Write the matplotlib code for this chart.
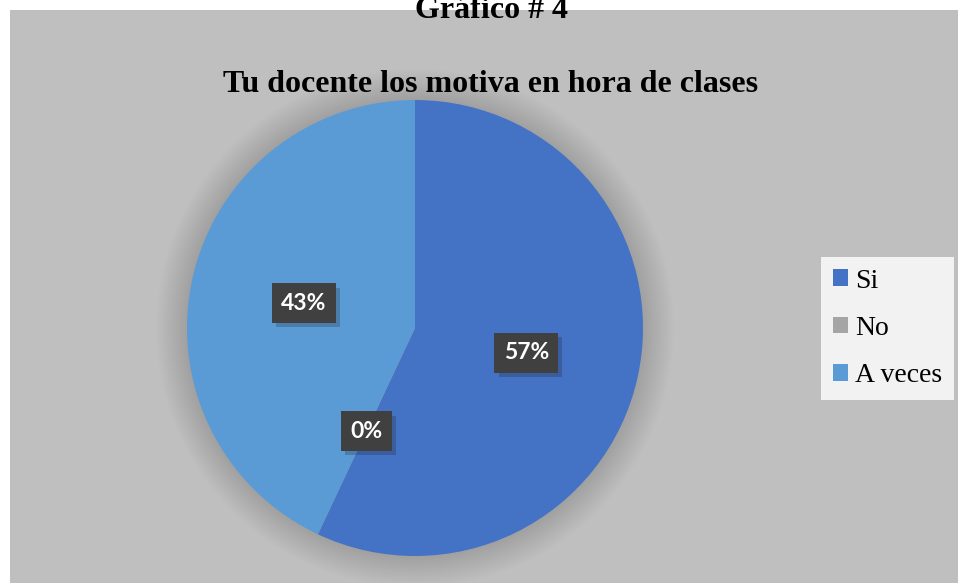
import matplotlib
matplotlib.use("Agg")
import matplotlib.pyplot as plt
from matplotlib.patches import Rectangle, Circle
import matplotlib.patheffects as pe

categories = ["Si", "No", "A veces"]
values = [57, 0, 43]
colors = ["#4472C4", "#A5A5A5", "#5B9BD5"]
title = "Gráfico # 4"
subtitle = "Tu docente los motiva en hora de clases"

W, H = 959, 583
fig = plt.figure(figsize=(W / 100, H / 100), dpi=100)
fig.patch.set_facecolor("white")

# gray chart area
fig.patches.append(Rectangle((10 / W, 0), (958 - 10) / W, (H - 10) / H,
                             transform=fig.transFigure, facecolor="#BFBFBF",
                             edgecolor="none", zorder=-5))

cx, cy, r = 415, 328, 228
ext = 1.2
half = r * ext
ax = fig.add_axes([(cx - half) / W, 1 - (cy + half) / H, 2 * half / W, 2 * half / H])
ax.set_zorder(2)
ax.set_facecolor("none")
ax.axis("off")

# soft shadow
for k in range(1, 16):
    ax.add_patch(Circle((0, 0), 1 + k * 0.009, facecolor="black", edgecolor="none",
                        alpha=0.009, zorder=0))

wedges, texts, autotexts = ax.pie(values, colors=colors, startangle=90, counterclock=False,
                                  radius=1, autopct=lambda p: f"{p:.0f}%", pctdistance=0.5,
                                  wedgeprops=dict(edgecolor="none", zorder=2),
                                  textprops=dict(color="white", fontsize=16.5, fontweight="bold",
                                                 family=["Lato", "DejaVu Sans"]))
for t in autotexts:
    t.set_zorder(5)
    t.set_bbox(dict(boxstyle="square,pad=0.4", facecolor="#404040", edgecolor="none"))
    t.get_bbox_patch().set_path_effects([pe.withSimplePatchShadow(offset=(3, -3), alpha=0.22)])

ax.set_xlim(-ext, ext)
ax.set_ylim(-ext, ext)
ax.set_aspect("equal")

fig.text(491 / W, 1 - 18 / H, title, ha="center", va="baseline", fontsize=23,
         fontweight="bold", family="Liberation Serif", zorder=6)
fig.text(491 / W, 1 - 92 / H, subtitle, ha="center", va="baseline", fontsize=23,
         fontweight="bold", family="Liberation Serif", zorder=6)

leg = fig.legend(wedges, categories, loc="upper left",
                 bbox_to_anchor=(821 / W, 1 - 257 / H), borderaxespad=0,
                 prop=dict(family="Liberation Serif", size=20),
                 frameon=True, fancybox=False, facecolor="#F2F2F2", edgecolor="none",
                 framealpha=1, handlelength=0.55, handleheight=0.55, handletextpad=0.25,
                 labelspacing=0.8, borderpad=0.42)
leg.set_zorder(6)

fig.savefig("out.png", dpi=100)
